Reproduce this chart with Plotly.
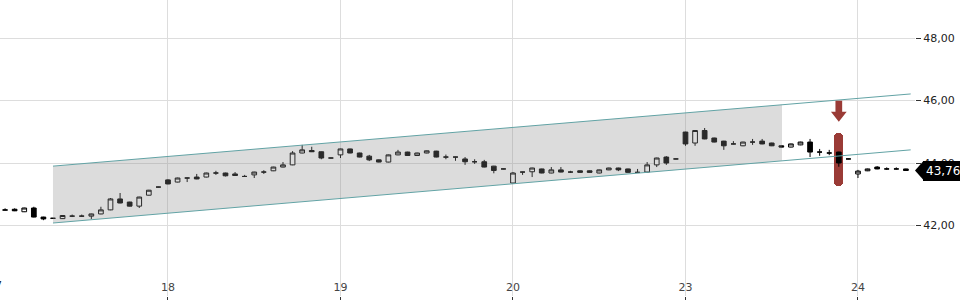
import plotly.graph_objects as go

# ---------------- data ----------------
# candle index (18 half-hour candles per trading day; day "17" starts at index 0)
candle_idx = list(range(1, 96))
opens = [42.49, 42.52, 42.44, 42.56, 42.27, 42.23, 42.22, 42.30, 42.30, 42.30,
         42.37, 42.50, 42.85, 42.75, 42.62, 42.97, 43.23,
         43.46, 43.39, 43.52, 43.55, 43.55, 43.68, 43.68, 43.65, 43.57, 43.62,
         43.71, 43.75, 43.87, 43.94, 44.32, 44.40, 44.36, 44.16,
         44.26, 44.45, 44.32, 44.22, 44.10, 44.03, 44.26, 44.35, 44.24, 44.32,
         44.38, 44.19, 44.19, 44.13, 44.04, 44.04, 43.90, 43.81,
         43.36, 43.71, 43.72, 43.81, 43.68, 43.78, 43.71, 43.75, 43.75, 43.68,
         43.78, 43.84, 43.81, 43.70, 43.71, 43.94, 44.19, 44.13,
         44.99, 44.64, 45.04, 44.80, 44.70, 44.61, 44.55, 44.67, 44.70, 44.64,
         44.55, 44.51, 44.58, 44.67, 44.35, 44.32, 44.35, 44.13,
         43.65, 43.75, 43.87, 43.81, 43.81, 43.81]
highs = [42.55, 42.55, 42.57, 42.60, 42.28, 42.24, 42.33, 42.35, 42.35, 42.38,
         42.60, 42.88, 43.04, 42.76, 42.92, 43.14, 43.24,
         43.48, 43.53, 43.53, 43.65, 43.69, 43.75, 43.69, 43.71, 43.62, 43.72,
         43.77, 43.88, 44.03, 44.38, 44.58, 44.52, 44.37, 44.17,
         44.46, 44.46, 44.33, 44.26, 44.11, 44.27, 44.42, 44.36, 44.33, 44.40,
         44.39, 44.27, 44.20, 44.19, 44.12, 44.10, 43.91, 43.82,
         43.71, 43.72, 43.85, 43.82, 43.87, 43.87, 43.75, 43.76, 43.76, 43.79,
         43.85, 43.85, 43.82, 43.81, 44.03, 44.17, 44.22, 44.14,
         45.00, 45.05, 45.12, 44.81, 44.71, 44.70, 44.68, 44.77, 44.77, 44.65,
         44.56, 44.62, 44.68, 44.77, 44.45, 44.42, 44.36, 44.14,
         43.78, 43.82, 43.90, 43.86, 43.86, 43.82]
lows = [42.48, 42.46, 42.43, 42.26, 42.17, 42.22, 42.21, 42.27, 42.28, 42.21,
        42.36, 42.49, 42.71, 42.61, 42.56, 42.96, 43.22,
        43.32, 43.38, 43.39, 43.48, 43.54, 43.62, 43.57, 43.59, 43.56, 43.52,
        43.65, 43.74, 43.86, 43.93, 44.31, 44.35, 44.12, 44.15,
        44.16, 44.31, 44.18, 44.06, 44.02, 44.02, 44.25, 44.23, 44.23, 44.31,
        44.18, 44.12, 44.07, 43.94, 43.97, 43.86, 43.67, 43.80,
        43.35, 43.62, 43.55, 43.67, 43.67, 43.70, 43.68, 43.69, 43.69, 43.67,
        43.77, 43.74, 43.69, 43.69, 43.70, 43.87, 43.94, 44.12,
        44.55, 44.55, 44.76, 44.66, 44.42, 44.60, 44.54, 44.58, 44.60, 44.54,
        44.50, 44.50, 44.57, 44.19, 44.23, 44.25, 43.88, 44.12,
        43.52, 43.74, 43.80, 43.78, 43.79, 43.75]
closes = [42.50, 42.47, 42.56, 42.27, 42.21, 42.23, 42.32, 42.30, 42.30, 42.37,
          42.50, 42.85, 42.72, 42.62, 42.91, 43.13, 43.23,
          43.33, 43.52, 43.52, 43.49, 43.68, 43.68, 43.59, 43.60, 43.57, 43.71,
          43.71, 43.87, 43.94, 44.32, 44.42, 44.36, 44.16, 44.16,
          44.45, 44.32, 44.19, 44.10, 44.03, 44.26, 44.35, 44.24, 44.32, 44.39,
          44.19, 44.19, 44.19, 44.04, 44.04, 43.87, 43.76, 43.81,
          43.68, 43.71, 43.84, 43.68, 43.78, 43.71, 43.71, 43.70, 43.70, 43.78,
          43.84, 43.78, 43.70, 43.70, 43.94, 44.16, 44.00, 44.13,
          44.61, 45.04, 44.77, 44.67, 44.55, 44.61, 44.67, 44.67, 44.61, 44.55,
          44.51, 44.61, 44.67, 44.35, 44.35, 44.32, 44.00, 44.13,
          43.74, 43.81, 43.81, 43.81, 43.81, 43.76]

# x-axis day ticks (index of first candle of each day)
day_tick_idx = [0, 18, 36, 54, 72, 90]
day_tick_labels = ["17", "18", "19", "20", "23", "24"]

# trend channel
channel_x = [6.0, 95.5]
channel_upper = [43.90, 46.21]
channel_lower = [42.08, 44.42]
channel_shade_end = 82.07

# signal marker
signal_x = 88
signal_bar_low = 43.26
signal_bar_high = 44.96
arrow_top = 45.99
arrow_neck = 45.64
arrow_tip = 45.32

y_ticks = [40, 42, 44, 46, 48]

# ---------------- styling ----------------
X_RANGE = [0.47, 95.95]
Y_RANGE = [39.744, 49.216]
FONT = "DejaVu Sans"
RED = "#9a3b36"
TEAL = "#62a3a5"


def interp(x, xs, ys):
    t = (x - xs[0]) / (xs[1] - xs[0])
    return ys[0] + t * (ys[1] - ys[0])


fig = go.Figure()

# shaded channel region
u_end = interp(channel_shade_end, channel_x, channel_upper)
l_end = interp(channel_shade_end, channel_x, channel_lower)
fig.add_trace(go.Scatter(
    x=[channel_x[0], channel_shade_end, channel_shade_end, channel_x[0], channel_x[0]],
    y=[channel_upper[0], u_end, l_end, channel_lower[0], channel_upper[0]],
    mode="lines", fill="toself", fillcolor="rgba(140,140,140,0.30)",
    line=dict(width=0), hoverinfo="skip", showlegend=False))

# channel lines
for ys in (channel_upper, channel_lower):
    fig.add_trace(go.Scatter(x=channel_x, y=ys, mode="lines",
                             line=dict(color=TEAL, width=1),
                             hoverinfo="skip", showlegend=False))

# red signal bar
fig.add_trace(go.Bar(x=[signal_x], y=[signal_bar_high - signal_bar_low],
                     base=[signal_bar_low], width=0.95,
                     marker=dict(color=RED, line=dict(width=0), cornerradius=5),
                     showlegend=False, hoverinfo="skip"))

# candles
fig.add_trace(go.Candlestick(
    x=candle_idx, open=opens, high=highs, low=lows, close=closes,
    increasing=dict(line=dict(color="black", width=1), fillcolor="white"),
    decreasing=dict(line=dict(color="black", width=1), fillcolor="black"),
    whiskerwidth=0, showlegend=False))

# arrow above signal
aw, hw = 0.35, 0.82
arrow_path = (f"M {signal_x-aw},{arrow_top} L {signal_x+aw},{arrow_top} "
              f"L {signal_x+aw},{arrow_neck} L {signal_x+hw},{arrow_neck} "
              f"L {signal_x},{arrow_tip} L {signal_x-hw},{arrow_neck} "
              f"L {signal_x-aw},{arrow_neck} Z")
fig.add_shape(type="path", path=arrow_path, xref="x", yref="y",
              fillcolor=RED, line=dict(width=0), layer="above")

# last price label
last = closes[-1]
plot_w = 915.0
tri_w = 8 / plot_w
tri_h = 9 / 31.25
fig.add_shape(type="path", xref="paper", yref="y",
              path=f"M 1,{last} L {1+tri_w},{last+tri_h} L {1+tri_w},{last-tri_h} Z",
              fillcolor="black", line=dict(width=0))
fig.add_annotation(xref="paper", yref="y", x=1 + tri_w, y=last,
                   xanchor="left", yanchor="middle", showarrow=False,
                   text=f"{last:.2f}".replace(".", ","),
                   font=dict(family=FONT, size=12, color="white"),
                   bgcolor="black", bordercolor="black", borderpad=2)

# partially visible first day label
fig.add_annotation(xref="paper", yref="paper",
                   x=(day_tick_idx[0] - X_RANGE[0]) / (X_RANGE[1] - X_RANGE[0]),
                   y=0, xanchor="center", yanchor="bottom", yshift=2,
                   text=day_tick_labels[0], showarrow=False,
                   font=dict(family=FONT, size=11, color="#222"))

fig.update_layout(
    width=960, height=300,
    margin=dict(l=0, r=45, t=0, b=4),
    paper_bgcolor="white", plot_bgcolor="white",
    separators=",.",
    font=dict(family=FONT, size=11, color="#222"),
    showlegend=False,
    bargap=0,
    xaxis=dict(range=X_RANGE, tickvals=day_tick_idx, ticktext=day_tick_labels,
               showgrid=True, gridcolor="#dddddd", gridwidth=1,
               ticks="outside", ticklen=4, tickcolor="#333",
               ticklabelposition="inside", zeroline=False, showline=False,
               rangeslider=dict(visible=False), fixedrange=True),
    yaxis=dict(range=Y_RANGE, side="right", tickvals=y_ticks, tickformat=".2f",
               showgrid=True, gridcolor="#dddddd", gridwidth=1,
               ticks="outside", ticklen=5, tickcolor="#333",
               zeroline=False, showline=False, fixedrange=True),
)

fig.write_html("out.html")
